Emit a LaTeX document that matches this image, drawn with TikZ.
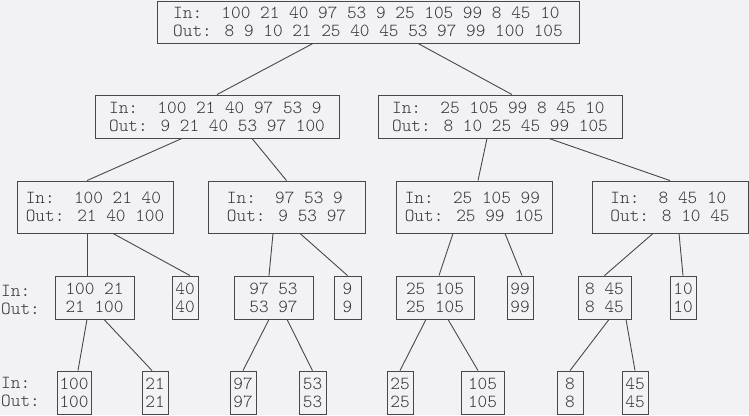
\documentclass[tikz,border=0pt]{standalone}
\usepackage{fontspec}
\newfontfamily\codefont{Latin Modern Mono Light}
\usepackage{tikz}
\definecolor{paper}{RGB}{242,242,244}
\definecolor{ink}{RGB}{51,51,51}
\definecolor{wire}{RGB}{72,72,72}

\begin{document}
\begin{tikzpicture}[x=1pt, y=-1pt,
  run/.style={rectangle, draw=wire, line width=0.9pt, inner sep=0pt, align=left,
    text=ink, font={\codefont\fontsize{18.4}{18}\selectfont}, minimum height=43pt},
  leaf/.style={run, minimum width=26pt},
  side/.style={anchor=west, align=left, inner sep=0pt, text=ink,
    font={\codefont\fontsize{18.4}{18}\selectfont}},
  link/.style={draw=wire, line width=0.9pt}
]

% Background
\fill[paper] (0,0) rectangle (749,415);

% Whole list
\node[run, minimum width=422pt, minimum height=42pt] (s) at (368,22)
  {In:\ \ 100 21 40 97 53 9 25 105 99 8 45 10\\Out: 8 9 10 21 25 40 45 53 97 99 100 105};

% Halves
\node[run, minimum width=244pt] (s1) at (217,116.5) {In:\ \ 100 21 40 97 53 9\\Out: 9 21 40 53 97 100};
\node[run, minimum width=244pt] (s2) at (500,116.5) {In:\ \ 25 105 99 8 45 10\\Out: 8 10 25 45 99 105};

% Quarters
\node[run, minimum width=156pt, minimum height=52pt] (s11) at (95,207)    {In:\ \ 100 21 40\\Out: 21 40 100};
\node[run, minimum width=157pt, minimum height=52pt] (s12) at (286.5,207) {In:\ \ 97 53 9\\Out: 9 53 97};
\node[run, minimum width=156pt, minimum height=52pt] (s21) at (474,207)   {In:\ \ 25 105 99\\Out: 25 99 105};
\node[run, minimum width=156pt, minimum height=52pt] (s22) at (670,207)   {In:\ \ 8 45 10\\Out: 8 10 45};

% Pairs and singles
\node[side] (in3) at (1,300) {In:\\Out:};
\node[run, minimum width=79pt] (s111) at (94.5,297.5)  {100 21\\21 100};
\node[leaf] (s112) at (185,297.5)                      {40\\40};
\node[run, minimum width=79pt] (s121) at (273.5,297.5) {97 53\\53 97};
\node[leaf, minimum width=27pt] (s122) at (347.5,297.5) {9\\9};
\node[run, minimum width=78pt] (s211) at (435,297.5)   {25 105\\25 105};
\node[leaf] (s212) at (520,297.5)                      {99\\99};
\node[run, minimum width=53pt] (s221) at (604.5,297.5) {8 45\\8 45};
\node[leaf] (s222) at (683,297.5)                      {10\\10};

% Leaves
\node[side] (in4) at (1,392) {In:\\Out:};
\node[leaf, minimum width=34pt] (s1111) at (74,392.5)  {100\\100};
\node[leaf] (s1112) at (155,392.5)                     {21\\21};
\node[leaf] (s1211) at (243,392.5)                     {97\\97};
\node[leaf, minimum width=27pt] (s1212) at (312.5,392.5) {53\\53};
\node[leaf] (s2111) at (400,392.5)                     {25\\25};
\node[leaf, minimum width=43pt] (s2112) at (482.5,392.5) {105\\105};
\node[leaf] (s2211) at (570,392.5)                     {8\\8};
\node[leaf] (s2212) at (635,392.5)                     {45\\45};

% Splits
\foreach \p/\c/\dp/\dc in {s/s1/-55/0, s/s2/50/12,
    s1/s11/-35/-8, s1/s12/35/0, s2/s21/-13/4, s2/s22/49/0,
    s11/s111/-8/-7.5, s11/s112/18/5, s12/s121/-13.5/-4.5, s12/s122/13.5/0,
    s21/s211/-21/4, s21/s212/31/2, s22/s221/-17/0, s22/s222/9/0,
    s111/s1111/-7.5/4, s111/s1112/9.5/-3, s121/s1211/-4.5/0, s121/s1212/13.5/0,
    s211/s2111/-9/0, s211/s2112/13/-4.5, s221/s2211/4.5/0, s221/s2212/21.5/0} {
  \draw[link] ([xshift=\dp]\p.south) -- ([xshift=\dc]\c.north);
}

\end{tikzpicture}
\end{document}
